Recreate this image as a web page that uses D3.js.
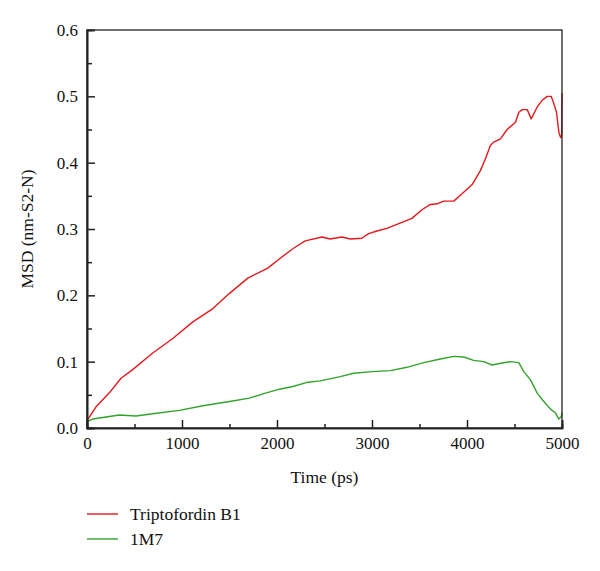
<!DOCTYPE html>
<html>
<head>
<meta charset="utf-8">
<script src="https://cdn.jsdelivr.net/npm/d3@7"></script>
<style>
  body { margin: 0; background: #fff; }
  text { font-family: "Liberation Serif", "DejaVu Serif", serif; fill: #111; }
</style>
</head>
<body>
<script>
// Triptofordin B1 (red)
var redTime = [0, 95, 235, 358, 481, 692, 903, 1114, 1325, 1500, 1693, 1903, 2034, 2174, 2297, 2473, 2560, 2683, 2771, 2894, 2964, 3052, 3157, 3262, 3420, 3526, 3614, 3685, 3755, 3860, 3948, 4054, 4141, 4194, 4246, 4282, 4352, 4422, 4510, 4546, 4581, 4634, 4676, 4739, 4791, 4844, 4886, 4914, 4942, 4967, 4985, 4996, 5000]
var redMsd = [0.011, 0.032, 0.053, 0.075, 0.088, 0.113, 0.135, 0.160, 0.180, 0.203, 0.226, 0.241, 0.256, 0.271, 0.282, 0.288, 0.285, 0.288, 0.285, 0.286, 0.293, 0.297, 0.301, 0.307, 0.316, 0.329, 0.337, 0.338, 0.342, 0.342, 0.353, 0.367, 0.388, 0.406, 0.426, 0.431, 0.436, 0.450, 0.461, 0.476, 0.480, 0.480, 0.466, 0.484, 0.494, 0.500, 0.500, 0.489, 0.476, 0.446, 0.438, 0.440, 0.505]

// 1M7 (green)
var greenTime = [0, 7, 60, 200, 340, 516, 692, 973, 1219, 1500, 1710, 1851, 2026, 2167, 2308, 2455, 2666, 2806, 2999, 3193, 3369, 3544, 3720, 3860, 3965, 4070, 4176, 4264, 4369, 4457, 4545, 4598, 4668, 4739, 4809, 4879, 4932, 4967, 4993, 5000]
var greenMsd = [0.004, 0.010, 0.0135, 0.0165, 0.0195, 0.018, 0.0215, 0.0265, 0.0335, 0.040, 0.045, 0.0515, 0.0585, 0.0625, 0.0685, 0.071, 0.0775, 0.0825, 0.085, 0.0865, 0.0915, 0.0985, 0.104, 0.108, 0.107, 0.102, 0.100, 0.095, 0.098, 0.100, 0.0985, 0.085, 0.0725, 0.0525, 0.040, 0.0285, 0.0225, 0.0135, 0.0175, 0.0235]

var seriesNames = ["Triptofordin B1", "1M7"]
var seriesColors = ["#e3191c", "#33a32b"]

var xTicks = [0, 1000, 2000, 3000, 4000, 5000]
var xMinor = [500, 1500, 2500, 3500, 4500]
var yTicks = [0.0, 0.1, 0.2, 0.3, 0.4, 0.5, 0.6]
var yMinor = [0.05, 0.15, 0.25, 0.35, 0.45, 0.55]

var width = 600,
    height = 571,
    margin = {left: 87, top: 30, right: 38, bottom: 143}

var svg = d3.select('body').append('svg')
    .attr('width', width)
    .attr('height', height)

var x = d3.scaleLinear()
    .domain([0, 5000])
    .range([margin.left, width - margin.right])

var y = d3.scaleLinear()
    .domain([0, 0.6])
    .range([height - margin.bottom, margin.top])

var line = d3.line()
    .x(function(d) { return x(d[0]) })
    .y(function(d) { return y(d[1]) })

var series = [
    d3.zip(redTime, redMsd),
    d3.zip(greenTime, greenMsd)
]

// Lines
svg.selectAll('path.series')
    .data(series)
    .enter()
    .append('path')
    .attr('class', 'series')
    .attr('d', line)
    .attr('fill', 'none')
    .attr('stroke', function(d, i) { return seriesColors[i] })
    .attr('stroke-width', 1.4)
    .attr('stroke-linejoin', 'round')

// Frame
svg.append('rect')
    .attr('x', x(0))
    .attr('y', y(0.6))
    .attr('width', x(5000) - x(0))
    .attr('height', y(0) - y(0.6))
    .attr('fill', 'none')
    .attr('stroke', '#222')
    .attr('stroke-width', 1.3)

// Axes with inward ticks
svg.append('g')
    .attr('transform', 'translate(0,' + y(0) + ')')
    .call(d3.axisBottom(x).tickValues(xTicks).tickSize(-8).tickPadding(9).tickFormat(d3.format('d')))
svg.append('g')
    .attr('transform', 'translate(0,' + y(0) + ')')
    .call(d3.axisBottom(x).tickValues(xMinor).tickSize(-4).tickFormat(''))

svg.append('g')
    .attr('transform', 'translate(' + x(0) + ',0)')
    .call(d3.axisLeft(y).tickValues(yTicks).tickSize(-8).tickPadding(9).tickFormat(d3.format('.1f')))
svg.append('g')
    .attr('transform', 'translate(' + x(0) + ',0)')
    .call(d3.axisLeft(y).tickValues(yMinor).tickSize(-5).tickFormat(''))

svg.selectAll('.domain').attr('stroke', '#222').attr('stroke-width', 1.6)
svg.selectAll('.tick line').attr('stroke', '#222').attr('stroke-width', 1.5)
svg.selectAll('.tick text')
    .style('font-size', '17px')
    .style('font-family', '"Liberation Serif", serif')
    .attr('fill', '#111')

// Axis titles
svg.append('text')
    .attr('x', (x(0) + x(5000)) / 2)
    .attr('y', 483)
    .attr('text-anchor', 'middle')
    .style('font-size', '17.5px')
    .text('Time (ps)')

svg.append('text')
    .attr('transform', 'translate(33,' + (y(0.3)) + ') rotate(-90)')
    .attr('text-anchor', 'middle')
    .style('font-size', '17.5px')
    .text('MSD (nm-S2-N)')

// Legend
var legend = svg.selectAll('g.legend')
    .data(seriesNames)
    .enter()
    .append('g')
    .attr('class', 'legend')
    .attr('transform', function(d, i) { return 'translate(87,' + (514 + i * 25) + ')' })

legend.append('line')
    .attr('x1', 0)
    .attr('x2', 31)
    .attr('stroke', function(d, i) { return seriesColors[i] })
    .attr('stroke-width', 1.4)

legend.append('text')
    .attr('x', 43)
    .attr('dy', 6)
    .style('font-size', '17.5px')
    .text(function(d) { return d })
</script>
</body>
</html>
